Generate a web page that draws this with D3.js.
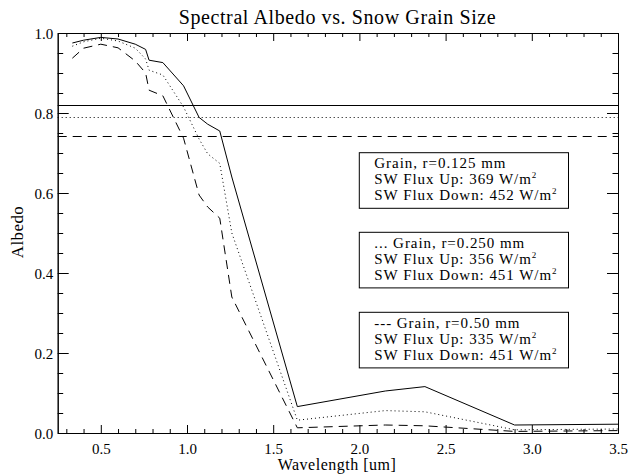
<!DOCTYPE html>
<html>
<head>
<meta charset="utf-8">
<script src="https://cdn.jsdelivr.net/npm/d3@7"></script>
<style>
  html, body { margin: 0; padding: 0; background: #fff; }
  svg { display: block; }
</style>
</head>
<body>
<svg id="chart" width="629" height="476"></svg>
<script>
// ---- data ----
const wavelength = [0.335, 0.40, 0.50, 0.60, 0.70, 0.76, 0.78, 0.86, 0.98, 1.07, 1.12, 1.19, 1.26, 1.64, 2.15, 2.38, 2.90, 3.50];
const albedo125 = [0.975, 0.982, 0.989, 0.985, 0.972, 0.959, 0.932, 0.926, 0.868, 0.789, 0.772, 0.755, 0.640, 0.066, 0.105, 0.116, 0.020, 0.022];
const albedo250 = [0.967, 0.978, 0.987, 0.980, 0.962, 0.935, 0.907, 0.895, 0.815, 0.735, 0.698, 0.674, 0.500, 0.032, 0.056, 0.053, 0.008, 0.010];
const albedo500 = [0.937, 0.962, 0.972, 0.963, 0.930, 0.900, 0.857, 0.843, 0.737, 0.595, 0.565, 0.537, 0.340, 0.013, 0.020, 0.018, 0.004, 0.006];
const broadbandAlbedo = [0.82, 0.79, 0.742];
const grainLabels = ["Grain, r=0.125 mm", "... Grain, r=0.250 mm", "--- Grain, r=0.50 mm"];
const fluxUp = [369, 356, 335];
const fluxDown = [452, 451, 451];
const xTicks = [0.5, 1.0, 1.5, 2.0, 2.5, 3.0, 3.5];
const yTicks = [0.0, 0.2, 0.4, 0.6, 0.8, 1.0];

// ---- layout ----
const FONT = "'Liberation Serif', 'Times New Roman', serif";
const L = 57.7, R = 618, T = 33, B = 433;
const svg = d3.select("#chart");
svg.append("rect").attr("width", 629).attr("height", 476).attr("fill", "#fff");
const x = d3.scaleLinear().domain([0.25, 3.5]).range([L, R]);
const y = d3.scaleLinear().domain([0, 1.0]).range([B, T]);
const styles = [null, "1,3", "9,6"];

// title
svg.append("text").attr("x", 337.5).attr("y", 24).attr("text-anchor", "middle")
  .attr("font-family", FONT).attr("font-size", 20).attr("letter-spacing", 0.6)
  .text("Spectral Albedo vs. Snow Grain Size");

// axes with IDL-like ticks on all sides
const xMinor = d3.range(3, 36).map(d => d / 10).filter(d => Math.abs(d * 2 - Math.round(d * 2)) > 1e-6);
const yMinor = d3.range(0, 21).map(d => d * 0.05).filter(d => Math.abs(d * 5 - Math.round(d * 5)) > 1e-6);

const gB = svg.append("g").attr("transform", `translate(0,${B})`)
  .call(d3.axisBottom(x).tickValues(xTicks).tickSizeInner(-8).tickSizeOuter(0).tickPadding(10.4).tickFormat(d3.format(".1f")));
const gBm = svg.append("g").attr("transform", `translate(0,${B})`)
  .call(d3.axisBottom(x).tickValues(xMinor).tickSizeInner(-4).tickSizeOuter(0).tickFormat(""));
const gT = svg.append("g").attr("transform", `translate(0,${T})`)
  .call(d3.axisTop(x).tickValues(xTicks).tickSizeInner(-8).tickSizeOuter(0).tickFormat(""));
const gTm = svg.append("g").attr("transform", `translate(0,${T})`)
  .call(d3.axisTop(x).tickValues(xMinor).tickSizeInner(-4).tickSizeOuter(0).tickFormat(""));
const gL = svg.append("g").attr("transform", `translate(${L},0)`)
  .call(d3.axisLeft(y).tickValues(yTicks).tickSizeInner(-11).tickSizeOuter(0).tickPadding(4.5).tickFormat(d3.format(".1f")));
const gLm = svg.append("g").attr("transform", `translate(${L},0)`)
  .call(d3.axisLeft(y).tickValues(yMinor).tickSizeInner(-5.5).tickSizeOuter(0).tickFormat(""));
const gR = svg.append("g").attr("transform", `translate(${R},0)`)
  .call(d3.axisRight(y).tickValues(yTicks).tickSizeInner(-11).tickSizeOuter(0).tickFormat(""));
const gRm = svg.append("g").attr("transform", `translate(${R},0)`)
  .call(d3.axisRight(y).tickValues(yMinor).tickSizeInner(-5.5).tickSizeOuter(0).tickFormat(""));

[gB, gBm, gT, gTm, gL, gLm, gR, gRm].forEach(g => {
  g.attr("font-family", FONT).attr("font-size", 15);
  g.select(".domain").attr("stroke", "#000").attr("stroke-width", 1);
  g.selectAll(".tick line").attr("stroke", "#000").attr("stroke-width", 1);
  g.selectAll(".tick text").attr("font-family", FONT).attr("font-size", 15).attr("fill", "#000");
});
// left labels sit just left of the axis (they overlap the tick zone as in the original)
gL.selectAll(".tick text").attr("x", -4.5).attr("dy", "0.35em");

// axis labels
svg.append("text").attr("x", 337).attr("y", 469.5).attr("text-anchor", "middle")
  .attr("font-family", FONT).attr("font-size", 16).attr("letter-spacing", 0.5)
  .text("Wavelength [um]");
svg.append("text").attr("transform", "translate(22.5,232) rotate(-90)").attr("text-anchor", "middle")
  .attr("font-family", FONT).attr("font-size", 17).attr("letter-spacing", 0.4)
  .text("Albedo");

// spectral curves
const line = d3.line().x(d => x(d[0])).y(d => y(d[1]));
[albedo125, albedo250, albedo500].forEach((vals, i) => {
  svg.append("path").datum(wavelength.map((w, j) => [w, vals[j]]))
    .attr("d", line).attr("fill", "none").attr("stroke", "#000").attr("stroke-width", 1)
    .attr("stroke-dasharray", styles[i]);
});

// broadband albedo lines
broadbandAlbedo.forEach((v, i) => {
  svg.append("line").attr("x1", x(0.25)).attr("x2", x(3.5)).attr("y1", Math.round(y(v)) + 0.5).attr("y2", Math.round(y(v)) + 0.5)
    .attr("stroke", "#000").attr("stroke-width", 1).attr("stroke-dasharray", styles[i]);
});

// legend boxes
const boxTops = [152.7, 232.3, 312.3];
boxTops.forEach((top, i) => {
  const g = svg.append("g");
  const rect = g.append("rect").attr("fill", "#fff").attr("stroke", "#000").attr("stroke-width", 1);
  const tx = 374.3;
  const lines = [
    [grainLabels[i], false],
    [`SW Flux Up: ${fluxUp[i]} W/m`, true],
    [`SW Flux Down: ${fluxDown[i]} W/m`, true]
  ];
  const tg = g.append("g");
  lines.forEach((ln, k) => {
    const t = tg.append("text").attr("x", tx).attr("y", top + 15.7 + k * 15.8)
      .attr("font-family", FONT).attr("font-size", 15).attr("letter-spacing", 0.95);
    t.append("tspan").text(ln[0]);
    if (ln[1]) t.append("tspan").attr("dy", -6).attr("font-size", 9).text("2");
  });
  const bb = tg.node().getBBox();
  rect.attr("x", 359.3).attr("y", top)
    .attr("width", bb.x + bb.width + 11 - 359.3).attr("height", 55.6);
});
</script>
</body>
</html>
